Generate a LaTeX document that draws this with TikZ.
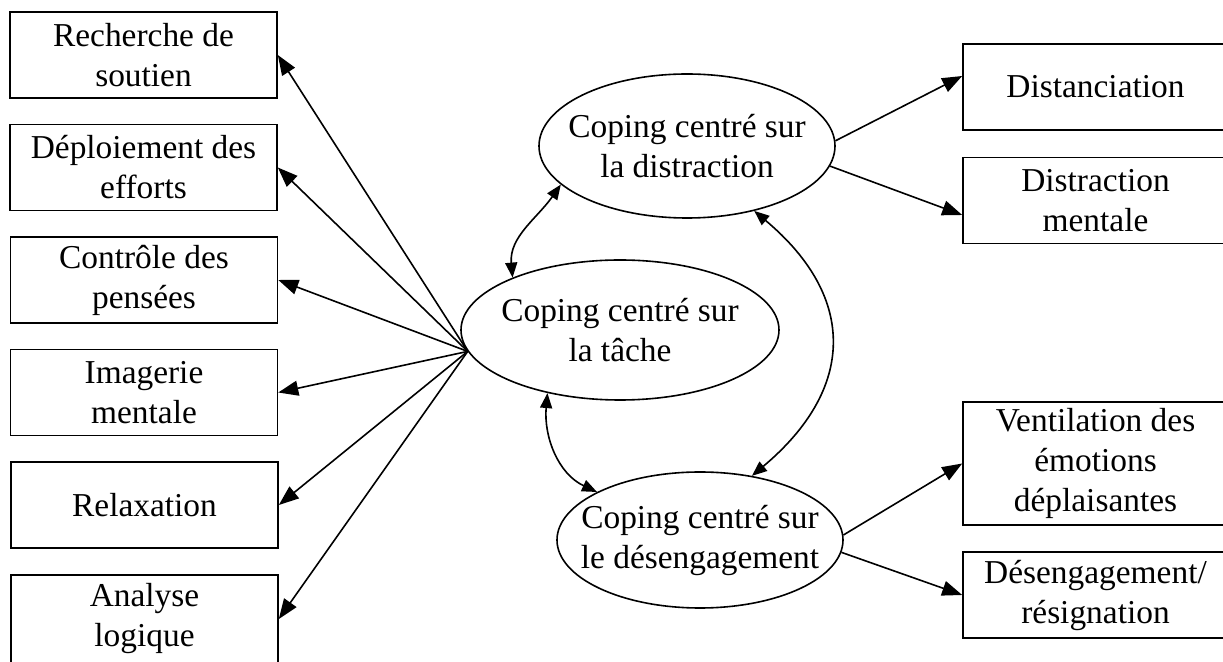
\documentclass[tikz,border=0pt]{standalone}
\usepackage{fontspec}
\setmainfont{Liberation Serif}
\usetikzlibrary{arrows.meta,shapes.geometric}

\begin{document}
\begin{tikzpicture}[x=0.5pt,y=-0.5pt,line width=0.8pt,font=\fontsize{16.7pt}{20pt}\selectfont,
  box/.style={rectangle,draw,inner sep=0pt,align=center,minimum width=133.5pt,minimum height=43pt},
  rbox/.style={box,minimum width=132.5pt},
  oval/.style={ellipse,draw,inner sep=0pt},
  arr/.style={-{Triangle[length=10pt,width=7.5pt]}},
  darr/.style={{Triangle[length=7.5pt,width=6pt]}-{Triangle[length=7.5pt,width=6pt]}}]
\useasboundingbox (0,0) rectangle (1223,662);
\clip (0,0) rectangle (1223,662);
\node[box] (soutien) at (143.5,55) {Recherche de\\soutien};
\node[box] (efforts) at (143.5,167.5) {Déploiement des\\efforts};
\node[box] (pensees) at (144,280) {Contrôle des\\pensées};
\node[box] (imagerie) at (144,392.5) {Imagerie\\mentale};
\node[box] (relax) at (144.5,505) {Relaxation};
\node[box,minimum height=44pt] (analyse) at (144.5,619) {Analyse\\logique};
\node[oval,minimum width=148pt,minimum height=72pt,label={[align=center]center:Coping centré sur\\la distraction}] (distr) at (687,146) {};
\node[oval,minimum width=159pt,minimum height=70pt,label={[align=center]center:Coping centré sur\\la tâche}] (tache) at (620,330) {};
\node[oval,minimum width=143pt,minimum height=68pt,label={[align=center]center:Coping centré sur\\le désengagement}] (deseng) at (700,540) {};
\node[rbox] (distan) at (1095.5,87) {Distanciation};
\node[rbox] (mentale) at (1095.5,200.5) {Distraction\\mentale};
\node[rbox,minimum height=61.5pt] (ventil) at (1095.5,463.5) {Ventilation des\\émotions\\déplaisantes};
\node[rbox] (resign) at (1095.5,595) {Désengagement/\\résignation};
\coordinate (hub) at (tache.188);
\draw[arr] (hub) -- (soutien.east);
\draw[arr] (hub) -- (efforts.east);
\draw[arr] (hub) -- (pensees.east);
\draw[arr] (hub) -- (imagerie.east);
\draw[arr] (hub) -- (relax.east);
\draw[arr] (hub) -- (analyse.east);
\draw[arr] (distr.2) -- ([yshift=5.5pt]distan.west);
\draw[arr] (distr.-8) -- ([yshift=-7.25pt]mentale.west);
\draw[arr] (deseng.2) -- (ventil.west);
\draw[arr] (deseng.-5) -- (resign.west);
\draw[darr] (distr.197) to[out=235,in=95] (tache.154);
\draw[darr] (tache.221) to[out=265,in=155] (deseng.155);
\draw[darr] (distr.316) to[out=-40,in=40,looseness=1.3] (deseng.51);
\end{tikzpicture}
\end{document}
